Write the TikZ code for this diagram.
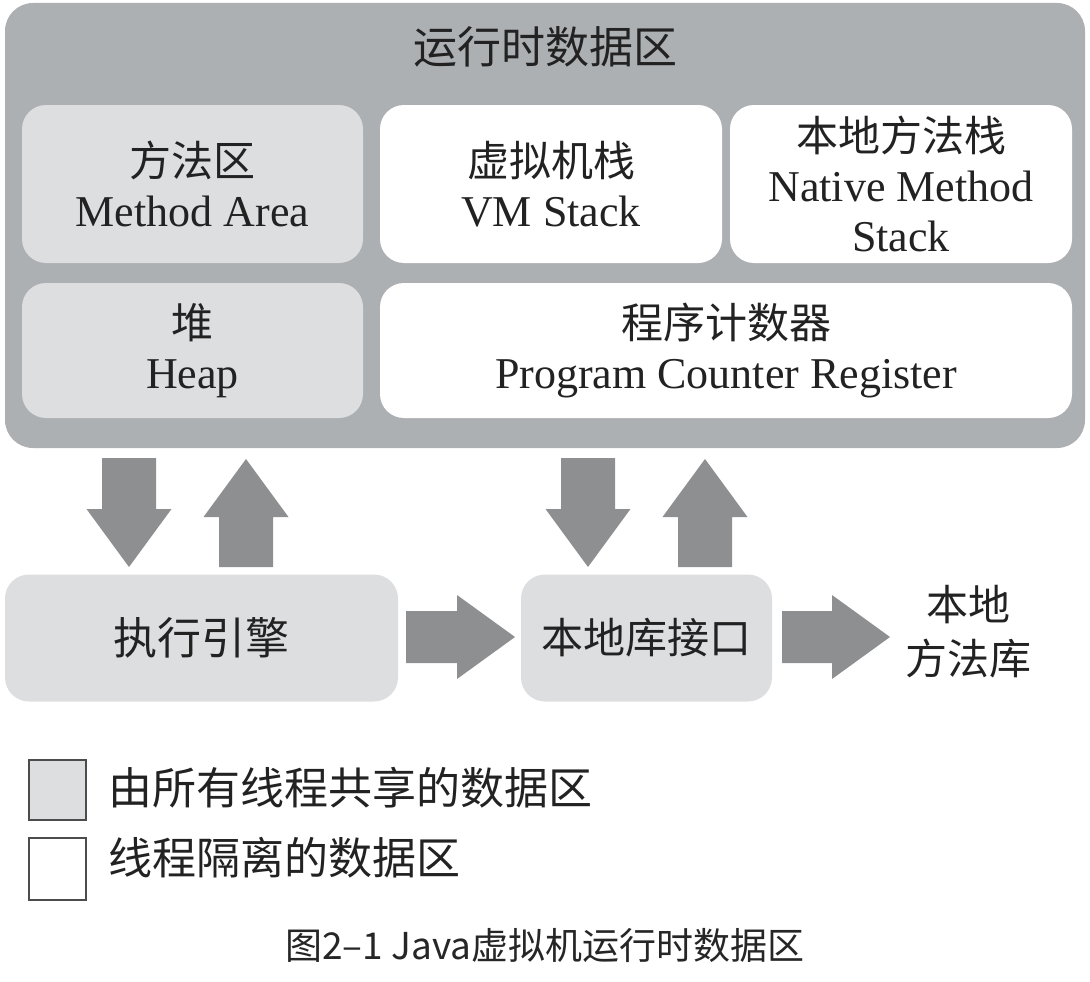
\documentclass[tikz,border=0pt]{standalone}
\usepackage{fontspec}
\setmainfont{Liberation Serif}
\newfontfamily\cjk{Noto Sans CJK SC}
\definecolor{outerg}{HTML}{ADB0B3}
\definecolor{lightg}{HTML}{DCDEE0}
\definecolor{arrg}{HTML}{8E8F91}
\definecolor{txt}{HTML}{222222}
\newcommand\vblockarrow[4]{% center x, start y, head base y, tip y
  \fill[arrg] (#1-27,#2) -- (#1+27,#2) -- (#1+27,#3) -- (#1+42.5,#3) -- (#1,#4) -- (#1-42.5,#3) -- (#1-27,#3) -- cycle;}
\newcommand\hblockarrow[4]{% center y, left x, head base x, tip x
  \fill[arrg] (#2,#1-26) -- (#3,#1-26) -- (#3,#1-42) -- (#4,#1) -- (#3,#1+42) -- (#3,#1+26) -- (#2,#1+26) -- cycle;}
\tikzset{
  box/.style={rounded corners=24pt, minimum width=#1, inner sep=0pt, align=center, text=txt,
    font=\fontsize{44}{50}\selectfont},
  shared/.style={fill=lightg},
  isolated/.style={fill=white},
}
\begin{document}
\begin{tikzpicture}[x=1pt,y=-1pt]
\useasboundingbox (0,0) rectangle (1090,982);
\node[rounded corners=28pt, fill=outerg, minimum width=1080pt, minimum height=445pt] (rt) at (545,225.5) {};
\node[text=txt, font=\cjk\fontsize{44}{50}\selectfont] (title) at (545,47) {运行时数据区};
\node[box=341pt, shared, minimum height=158pt] (ma) at (192.5,184) {{\cjk\fontsize{42}{50}\selectfont 方法区}\\Method Area};
\node[box=342pt, isolated, minimum height=158pt] (vm) at (551,184) {{\cjk\fontsize{42}{50}\selectfont 虚拟机栈}\\VM Stack};
\node[box=342pt, isolated, minimum height=158pt] (nm) at (901,184) {{\cjk\fontsize{42}{50}\selectfont 本地方法栈}\\Native Method\\Stack};
\node[box=341pt, shared, minimum height=135pt] (heap) at (192.5,350.5) {{\cjk\fontsize{42}{50}\selectfont 堆}\\Heap};
\node[box=692pt, isolated, minimum height=135pt] (pc) at (726,350.5) {{\cjk\fontsize{42}{50}\selectfont 程序计数器}\\Program Counter Register};
\node[box=393pt, shared, minimum height=127pt, font=\cjk\fontsize{44}{50}\selectfont] (ee) at (201.5,638) {执行引擎};
\node[box=251pt, shared, minimum height=127pt, font=\cjk\fontsize{42}{50}\selectfont] (ni) at (646.5,638) {本地库接口};
\node[align=center, text=txt, font=\cjk\fontsize{42}{54}\selectfont] (nl) at (968,632) {本地\\方法库};
% block arrows
\vblockarrow{129}{458}{509}{567}
\vblockarrow{246}{567}{517}{459}
\vblockarrow{588}{458}{509}{567}
\vblockarrow{705}{567}{517}{459}
\hblockarrow{637}{406}{457}{515}
\hblockarrow{637}{782}{832}{890}
% legend
\node[draw=black!70, line width=1.2pt, fill=lightg, minimum width=57pt, minimum height=60pt, inner sep=0pt] (lg1) at (57.5,790) {};
\node[draw=black!70, line width=1.2pt, fill=white, minimum width=57pt, minimum height=62pt, inner sep=0pt] (lg2) at (57.5,869) {};
\node[anchor=west, text=txt, inner sep=0pt, font=\cjk\fontsize{44}{50}\selectfont] (lt1) at (108,788) {由所有线程共享的数据区};
\node[anchor=west, text=txt, inner sep=0pt, font=\cjk\fontsize{44}{50}\selectfont] (lt2) at (108,858) {线程隔离的数据区};
% caption
\node[text=black!85, font=\cjk\fontsize{37}{44}\selectfont] (cap) at (545,945) {图2–1 Java虚拟机运行时数据区};
\end{tikzpicture}
\end{document}
